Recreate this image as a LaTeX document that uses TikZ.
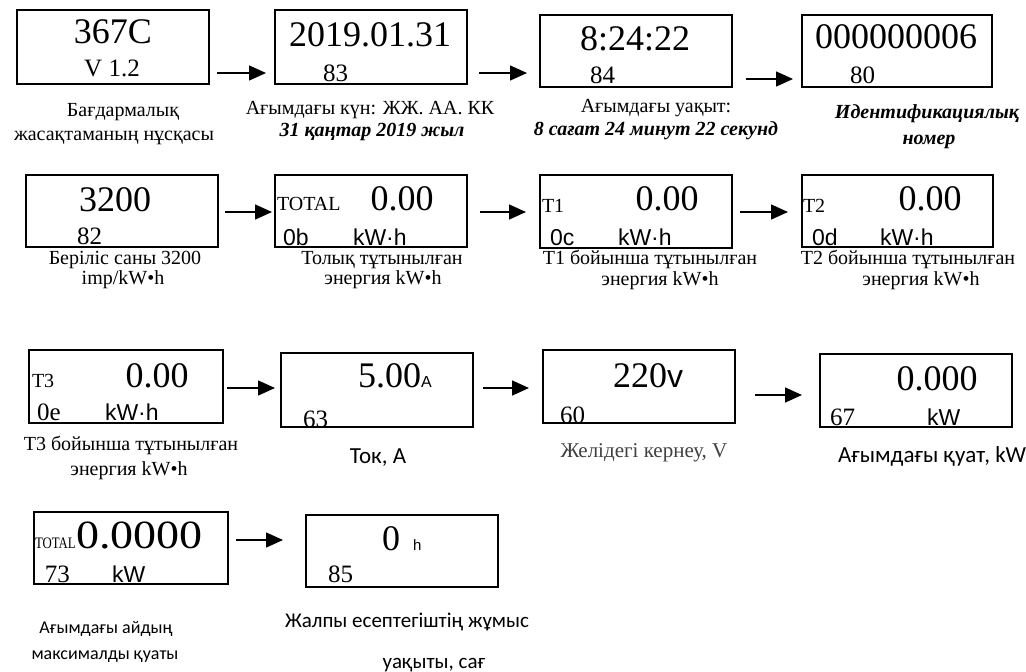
\documentclass[tikz,border=0pt]{standalone}
\usepackage{fontspec}
\setmainfont{Liberation Serif}
\newfontfamily\lsans{Liberation Sans}
\newfontfamily\carl{Carlito}
\usetikzlibrary{arrows.meta}
\newcommand\fsz[1]{\fontsize{#1}{#1}\selectfont}
\begin{document}
\begin{tikzpicture}[x=1pt,y=-1pt,
  box/.style={draw,line width=1.3pt,inner sep=0,outer sep=0,anchor=north west},
  arr/.style={line width=1.5pt,-{Triangle[length=17pt,width=15pt]}},
  t/.style={inner sep=0,outer sep=0},
  big/.style={t,font=\fsz{36}},
  sm/.style={t,font=\fsz{25},anchor=base west},
  tiny/.style={t,font=\fsz{20},anchor=base west},
  ss/.style={t,font=\lsans\fsz{23},anchor=base west},
  lab/.style={t,font=\fsz{20},anchor=base},
  labbi/.style={t,font=\fsz{20}\bfseries\itshape,anchor=base},
  cal/.style={t,font=\carl\fsz{20},anchor=base}]
\useasboundingbox (0,0) rectangle (1026,672);
% ---------- row 1
\node[box,minimum width=192pt,minimum height=74pt] (b1) at (17,10) {};
\node[box,minimum width=192pt,minimum height=74pt] (b2) at (275,10) {};
\node[box,minimum width=192pt,minimum height=72pt] (b3) at (540,15) {};
\node[box,minimum width=190pt,minimum height=72pt] (b4) at (802,15) {};
\node[big,anchor=base] (t1a) at (113,43) {367C};
\node[sm,anchor=base] (t1b) at (112,76) {V 1.2};
\node[big,anchor=base] (t2a) at (370,46) {2019.01.31};
\node[sm] (t2b) at (323,81) {83};
\node[big,anchor=base] (t3a) at (635,50) {8:24:22};
\node[sm] (t3b) at (590,83) {84};
\node[big,anchor=base] (t4a) at (896,48) {000000006};
\node[sm] (t4b) at (850,83) {80};
\coordinate (a1s) at (217,73); \coordinate (a1e) at (266,73);
\coordinate (a2s) at (479,73); \coordinate (a2e) at (527,73);
\coordinate (a3s) at (746,79); \coordinate (a3e) at (793,79);
\draw[arr] (a1s) -- (a1e);
\draw[arr] (a2s) -- (a2e);
\draw[arr] (a3s) -- (a3e);
\node[lab] (l1a) at (123,116) {Бағдармалық};
\node[lab] (l1b) at (114,140) {жасақтаманың нұсқасы};
\node[lab] (l2a) at (370,114) {Ағымдағы күн: ЖЖ. АА. КК};
\node[labbi] (l2b) at (372,136) {31 қаңтар 2019 жыл};
\node[lab] (l3a) at (656,112) {Ағымдағы уақыт:};
\node[labbi] (l3b) at (656,135) {8 сағат 24 минут 22 секунд};
\node[labbi] (l4a) at (927,118) {Идентификациялық};
\node[labbi] (l4b) at (929,144) {номер};
% ---------- row 2
\node[box,minimum width=192pt,minimum height=72pt] (b5) at (26,175) {};
\node[box,minimum width=192pt,minimum height=72pt] (b6) at (275,175) {};
\node[box,minimum width=192pt,minimum height=73pt] (b7) at (540,175) {};
\node[box,minimum width=191pt,minimum height=72pt] (b8) at (802,175) {};
\node[big,anchor=base] (t5a) at (115,211) {3200};
\node[sm] (t5b) at (77,244) {82};
\node[tiny] (t6a) at (277,210) {TOTAL};
\node[big,anchor=base] (t6b) at (402,210) {0.00};
\node[ss] (t6c) at (283,245) {0b};
\node[ss] (t6d) at (353,245) {kW·h};
\node[tiny] (t7a) at (542,212) {T1};
\node[big,anchor=base] (t7b) at (667,210) {0.00};
\node[ss] (t7c) at (550,245) {0c};
\node[ss] (t7d) at (618,245) {kW·h};
\node[tiny] (t8a) at (803,212) {T2};
\node[big,anchor=base] (t8b) at (930,210) {0.00};
\node[ss] (t8c) at (812,245) {0d};
\node[ss] (t8d) at (880,245) {kW·h};
\coordinate (a4s) at (225,212); \coordinate (a4e) at (272,212);
\coordinate (a5s) at (480,212); \coordinate (a5e) at (526,212);
\coordinate (a6s) at (740,212); \coordinate (a6e) at (788,212);
\draw[arr] (a4s) -- (a4e);
\draw[arr] (a5s) -- (a5e);
\draw[arr] (a6s) -- (a6e);
\node[lab] (l5a) at (125,264) {Беріліс саны 3200};
\node[lab] (l5b) at (123,284) {imp/kW•h};
\node[lab] (l6a) at (382,264) {Толық тұтынылған};
\node[lab] (l6b) at (383,284) {энергия kW•h};
\node[lab] (l7a) at (650,264) {T1 бойынша тұтынылған};
\node[lab] (l7b) at (660,285) {энергия kW•h};
\node[lab] (l8a) at (908,264) {T2 бойынша тұтынылған};
\node[lab] (l8b) at (921,285) {энергия kW•h};
% ---------- row 3
\node[box,minimum width=194pt,minimum height=73pt] (b9) at (29,350) {};
\node[box,minimum width=192pt,minimum height=74pt] (b10) at (281,353) {};
\node[box,minimum width=192pt,minimum height=73pt] (b11) at (543,350) {};
\node[box,minimum width=192pt,minimum height=73pt] (b12) at (820,354) {};
\node[tiny] (t9a) at (32,387) {T3};
\node[big,anchor=base] (t9b) at (157,387) {0.00};
\node[sm] (t9c) at (37,420) {0e};
\node[ss] (t9d) at (105,420) {kW·h};
\node[big,anchor=base west] (t10a) at (358,387) {5.00{\lsans\fsz{16}A}};
\node[sm] (t10b) at (303,427) {63};
\node[big,anchor=base west] (t11a) at (613,387) {220{\lsans\fsz{32}v}};
\node[sm] (t11b) at (560,423) {60};
\node[big,anchor=base] (t12a) at (937,390) {0.000};
\node[sm] (t12b) at (830,425) {67};
\node[ss] (t12c) at (927,425) {kW};
\coordinate (a7s) at (227,388); \coordinate (a7e) at (275,388);
\coordinate (a8s) at (483,388); \coordinate (a8e) at (529,388);
\coordinate (a9s) at (755,395); \coordinate (a9e) at (802,395);
\draw[arr] (a7s) -- (a7e);
\draw[arr] (a8s) -- (a8e);
\draw[arr] (a9s) -- (a9e);
\node[lab] (l9a) at (131,450) {T3 бойынша тұтынылған};
\node[lab] (l9b) at (129,475) {энергия kW•h};
\node[cal,font=\carl\fsz{23}] (l10) at (378,463) {Ток, А};
\node[lab,font=\fsz{21},text=black!75] (l11) at (644,457) {Желідегі кернеу, V};
\node[cal,font=\carl\fsz{23},anchor=base west] (l12) at (838,462) {Ағымдағы қуат, kW};
% ---------- row 4
\node[box,minimum width=194pt,minimum height=72pt] (b13) at (34,512) {};
\node[box,minimum width=192pt,minimum height=72pt] (b14) at (306,515) {};
\node[t,anchor=base west] (t13a) at (35,548) {\scalebox{0.8}[1]{\fsz{16}TOTAL}};
\node[t,anchor=base west] (t13b) at (76,548) {\scalebox{1.15}[1]{\fsz{40}0.0000}};
\node[sm] (t13c) at (45,582) {73};
\node[ss] (t13d) at (112,582) {kW};
\node[big,anchor=base] (t14a) at (391,550) {0};
\node[t,font=\lsans\fsz{15},anchor=base west] (t14b) at (413,550) {h};
\node[sm] (t14c) at (328,582) {85};
\coordinate (a10s) at (236,540); \coordinate (a10e) at (283,540);
\draw[arr] (a10s) -- (a10e);
\node[cal,font=\carl\fsz{18}] (l13a) at (106,633) {Ағымдағы айдың};
\node[cal,font=\carl\fsz{18}] (l13b) at (105,659) {максималды қуаты};
\node[cal,font=\carl\fsz{21},anchor=base west] (l14a) at (285,627) {Жалпы есептегіштің жұмыс};
\node[cal,font=\carl\fsz{21}] (l14b) at (434,668) {уақыты, сағ};
\end{tikzpicture}
\end{document}
